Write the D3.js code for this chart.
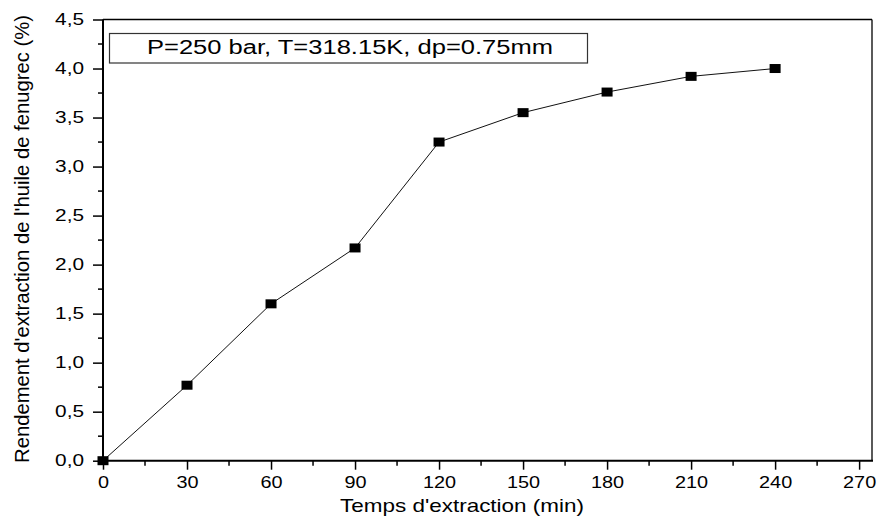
<!DOCTYPE html>
<html><head><meta charset="utf-8">
<script src="https://cdn.jsdelivr.net/npm/d3@7"></script>
<style>body{margin:0;background:#fff}svg{display:block;font-family:Arial,"Liberation Sans",sans-serif}</style>
</head><body><svg id="c" width="879" height="528"></svg>
<script>
const times = [0, 30, 60, 90, 120, 150, 180, 210, 240];
const yields = [0.0, 0.77, 1.6, 2.17, 3.25, 3.55, 3.76, 3.92, 4.0];
const xTicks = [0, 30, 60, 90, 120, 150, 180, 210, 240, 270];
const yTicks = [0, 0.5, 1.0, 1.5, 2.0, 2.5, 3.0, 3.5, 4.0, 4.5];
const legendText = "P=250 bar, T=318.15K, dp=0.75mm";
const xLabel = "Temps d'extraction (min)";
const yLabel = "Rendement d'extraction de l'huile de fenugrec (%)";

const svg = d3.select("#c");
const L = 103, R = 872, T = 19.5, B = 460.7;
const x = d3.scaleLinear().domain([0, 274.6]).range([L, R]);
const y = d3.scaleLinear().domain([0, 4.5]).range([B, T]);

function stretch(sel, f) {
  sel.each(function(){ const w = this.getComputedTextLength(); d3.select(this).attr("textLength", w * f).attr("lengthAdjust", "spacingAndGlyphs"); });
}

// frame (top/right)
svg.append("line").attr("x1", L).attr("x2", R).attr("y1", T).attr("y2", T).attr("stroke", "#000").attr("stroke-width", 1.3);
svg.append("line").attr("x1", R).attr("x2", R).attr("y1", T).attr("y2", B).attr("stroke", "#000").attr("stroke-width", 1.3);

// minor ticks
const xMinor = d3.range(15, 275, 30);
svg.append("g").selectAll("line").data(xMinor).join("line")
  .attr("x1", d => x(d)).attr("x2", d => x(d)).attr("y1", B).attr("y2", B + 5).attr("stroke", "#000").attr("stroke-width", 1.5);
const yMinor = d3.range(0.25, 4.5, 0.5);
svg.append("g").selectAll("line").data(yMinor).join("line")
  .attr("x1", L - 5).attr("x2", L).attr("y1", d => y(d)).attr("y2", d => y(d)).attr("stroke", "#000").attr("stroke-width", 1.5);

// axes
const gx = svg.append("g").attr("transform", `translate(0,${B})`)
  .call(d3.axisBottom(x).tickValues(xTicks).tickSize(9).tickPadding(7).tickSizeOuter(0).tickFormat(d3.format("d")));
const gy = svg.append("g").attr("transform", `translate(${L},0)`)
  .call(d3.axisLeft(y).tickValues(yTicks).tickSize(10).tickPadding(9).tickSizeOuter(0).tickFormat(d => d3.format(".1f")(d).replace(".", ",")));
[gx, gy].forEach(g => {
  g.select(".domain").attr("stroke", "#000").attr("stroke-width", 2);
  g.selectAll(".tick line").attr("stroke", "#000").attr("stroke-width", 1.5);
  g.selectAll(".tick text").attr("fill", "#000").attr("font-size", 16).attr("font-family", "Arial, 'Liberation Sans', sans-serif");
});
gx.select(".domain").attr("d", `M${L},0H${R + 1}`);
gy.select(".domain").attr("d", `M0,${B + 1}V${T}`);
stretch(gx.selectAll(".tick text"), 1.24);
stretch(gy.selectAll(".tick text"), 1.3);

// line + markers
const line = d3.line().x((d, i) => x(times[i])).y(d => y(d));
svg.append("path").datum(yields).attr("d", line).attr("fill", "none").attr("stroke", "#111").attr("stroke-width", 1);
svg.append("g").selectAll("rect").data(yields).join("rect")
  .attr("x", (d, i) => x(times[i]) - 5.5).attr("y", d => y(d) - 4.5).attr("width", 11).attr("height", 9).attr("fill", "#000");

// legend box
svg.append("rect").attr("x", 109.5).attr("y", 33.5).attr("width", 478).attr("height", 29.5).attr("fill", "#fff").attr("stroke", "#333").attr("stroke-width", 1.2);
const lt = svg.append("text").attr("x", 147).attr("y", 54).attr("font-size", 19.5).attr("fill", "#000").text(legendText);
lt.attr("textLength", 406).attr("lengthAdjust", "spacingAndGlyphs");

// axis labels
const xl = svg.append("text").attr("x", 462).attr("y", 512).attr("text-anchor", "middle").attr("font-size", 18.5).attr("fill", "#000").text(xLabel);
xl.attr("textLength", 244).attr("lengthAdjust", "spacingAndGlyphs");
const yl = svg.append("text").attr("transform", `translate(29,${(15 + 463) / 2}) rotate(-90)`).attr("text-anchor", "middle").attr("font-size", 20).attr("fill", "#000").text(yLabel);
yl.attr("textLength", 448).attr("lengthAdjust", "spacingAndGlyphs");
</script></body></html>
